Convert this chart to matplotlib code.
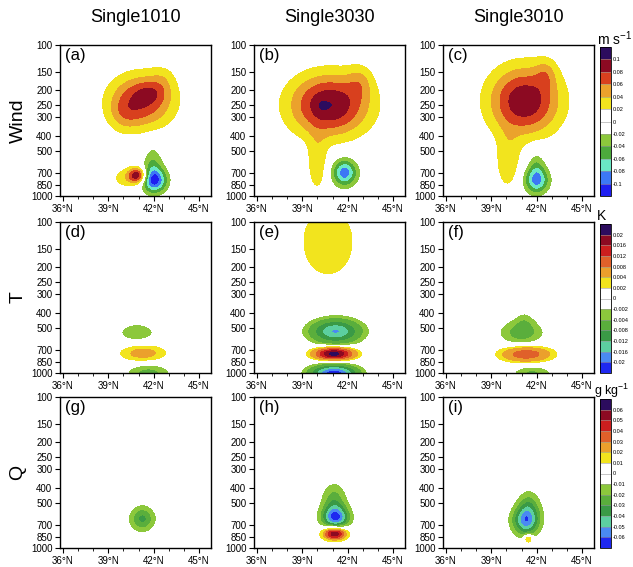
import numpy as np
import matplotlib
matplotlib.use("Agg")
import matplotlib.pyplot as plt
from matplotlib.colors import ListedColormap, BoundaryNorm
from matplotlib.ticker import NullLocator

plt.rcParams['font.family'] = ['Liberation Sans', 'DejaVu Sans']
plt.rcParams['mathtext.fontset'] = 'custom'
plt.rcParams['mathtext.rm'] = 'Liberation Sans'

runs = ["Single1010", "Single3030", "Single3010"]
variables = ["Wind", "T", "Q"]
tags = ["(a)", "(b)", "(c)", "(d)", "(e)", "(f)", "(g)", "(h)", "(i)"]

pres_ticks = [100, 150, 200, 250, 300, 400, 500, 700, 850, 1000]
lat_ticks = [36, 39, 42, 45]

wind_levels = [-0.1, -0.08, -0.06, -0.04, -0.02, 0, 0.02, 0.04, 0.06, 0.08, 0.1]
wind_labels = ["-0.1", "-0.08", "-0.06", "-0.04", "-0.02", "0",
               "0.02", "0.04", "0.06", "0.08", "0.1"]
t_levels = [-0.02, -0.016, -0.012, -0.008, -0.004, -0.002, 0,
            0.002, 0.004, 0.008, 0.012, 0.016, 0.02]
t_labels = ["-0.02", "-0.016", "-0.012", "-0.008", "-0.004", "-0.002", "0",
            "0.002", "0.004", "0.008", "0.012", "0.016", "0.02"]
q_levels = [-0.06, -0.05, -0.04, -0.03, -0.02, -0.01, 0,
            0.01, 0.02, 0.03, 0.04, 0.05, 0.06]
q_labels = ["-0.06", "-0.05", "-0.04", "-0.03", "-0.02", "-0.01", "0",
            "0.01", "0.02", "0.03", "0.04", "0.05", "0.06"]
units = [r"m s$^{-1}$", "K", r"g kg$^{-1}$"]
unit_x = [597, 597, 594]
unit_size = [10, 10, 9]

# colours low -> high (first = below lowest level, last = above highest)
wind_colors = ['#1e1ef0', '#3c78f5', '#6ae8c4', '#4caa3c', '#8cc83c', 'white',
               'white', '#f2e41e', '#eba22c', '#d8401e', '#8c0a22', '#2c0c5e']
tq_colors = ['#1e28f0', '#4a8af2', '#5ccfa0', '#3a9a46', '#5aae3c', '#8cc83c',
             'white', 'white', '#f2e41e', '#eba02c', '#e0602a', '#cc1e1e',
             '#8c0a22', '#2c0c5e']

# anomaly centres:
# (lat, pressure hPa, amplitude, lat width deg, log10(p) width)
wind_1010 = [(41.2, 235, 0.08, 1.5, 0.125), (41.9, 205, 0.02, 0.75, 0.05),
             (40.0, 290, 0.02, 0.7, 0.08), (42.6, 165, 0.015, 0.6, 0.06),
             (42.05, 790, -0.105, 0.6, 0.06), (41.95, 600, -0.035, 0.5, 0.09),
             (40.95, 730, 0.09, 0.4, 0.035), (40.2, 760, 0.03, 0.7, 0.05)]
wind_3030 = [(40.8, 250, 0.1, 1.85, 0.145), (40.3, 252, 0.01, 0.2, 0.02),
             (42.8, 175, 0.025, 0.6, 0.08), (40.0, 620, 0.035, 0.45, 0.13),
             (41.8, 700, -0.095, 0.6, 0.065)]
wind_3010 = [(41.2, 235, 0.097, 1.65, 0.16), (42.6, 155, 0.025, 0.5, 0.07),
             (40.1, 600, 0.035, 0.55, 0.13), (42.0, 790, -0.085, 0.6, 0.065),
             (42.0, 610, -0.03, 0.45, 0.08)]
t_1010 = [(40.9, 540, -0.0035, 0.95, 0.05), (41.3, 740, 0.0055, 1.05, 0.039),
          (41.65, 1000, -0.005, 1.0, 0.045)]
t_3030 = [(40.7, 135, 0.0035, 1.5, 0.2), (41.2, 530, -0.0165, 1.1, 0.055),
          (41.1, 745, 0.022, 0.85, 0.026), (41.1, 1000, -0.023, 1.0, 0.037)]
t_3010 = [(41.0, 540, -0.0055, 1.0, 0.06), (41.2, 450, -0.002, 0.45, 0.05),
          (41.3, 750, 0.011, 1.1, 0.034), (41.7, 1000, -0.0045, 0.9, 0.035)]
q_1010 = [(41.25, 640, -0.033, 0.6, 0.06)]
q_3030 = [(41.2, 630, -0.06, 0.65, 0.055), (41.1, 480, -0.025, 0.6, 0.08),
          (41.15, 800, 0.065, 0.55, 0.03)]
q_3010 = [(41.3, 660, -0.056, 0.65, 0.07), (41.5, 510, -0.02, 0.55, 0.07),
          (41.45, 870, 0.03, 0.2, 0.02)]

fields = [[wind_1010, wind_3030, wind_3010],
          [t_1010, t_3030, t_3010],
          [q_1010, q_3030, q_3010]]
level_sets = [wind_levels, t_levels, q_levels]
label_sets = [wind_labels, t_labels, q_labels]
color_sets = [wind_colors, tq_colors, tq_colors]

lat = np.linspace(35.8, 45.8, 201)
logp = np.linspace(2, 3, 161)
LAT, LOGP = np.meshgrid(lat, logp)


def build(blobs):
    f = np.zeros_like(LAT)
    for la, p, amp, sx, sy in blobs:
        f += amp * np.exp(-0.5 * ((LAT - la) / sx) ** 2
                          - 0.5 * ((LOGP - np.log10(p)) / sy) ** 2)
    return f


W, H = 633, 567
fig = plt.figure(figsize=(W / 100, H / 100), dpi=100)
col_left = [60, 254, 443]
row_top = [45, 222, 397]
aw, ah = 151, 151

for r in range(3):
    levels = level_sets[r]
    cols = color_sets[r]
    cmap = ListedColormap(cols[1:-1])
    cmap.set_under(cols[0])
    cmap.set_over(cols[-1])
    norm = BoundaryNorm(levels, cmap.N)
    for c in range(3):
        ax = fig.add_axes([col_left[c] / W, 1 - (row_top[r] + ah) / H, aw / W, ah / H])
        z = build(fields[r][c])
        cs = ax.contourf(lat, 10 ** logp, z, levels=levels, cmap=cmap,
                         norm=norm, extend='both')
        ax.set_yscale('log')
        ax.set_ylim(1000, 100)
        ax.set_xlim(35.8, 45.8)
        ax.set_yticks(pres_ticks)
        ax.set_yticklabels([str(p) for p in pres_ticks])
        ax.yaxis.set_minor_locator(NullLocator())
        ax.set_xticks(lat_ticks)
        ax.set_xticklabels([f"{v}°N" for v in lat_ticks])
        ax.set_xticks(range(37, 46), minor=True)
        ax.tick_params(which='both', direction='out', labelsize=7, pad=2)
        ax.tick_params(which='major', length=3.5)
        ax.tick_params(which='minor', length=2)
        for s in ax.spines.values():
            s.set_linewidth(1.0)
        ax.text(0.03, 0.98, tags[r * 3 + c], transform=ax.transAxes,
                ha='left', va='top', fontsize=12)
        if r == 0:
            fig.text((col_left[c] + aw / 2) / W, 1 - 18 / H, runs[c],
                     ha='center', va='center', fontsize=13)

    cax = fig.add_axes([600 / W, 1 - (row_top[r] + 2 + 149) / H, 11 / W, 149 / H])
    cb = fig.colorbar(cs, cax=cax, ticks=levels, extendrect=True,
                      extendfrac='auto', drawedges=True)
    cb.ax.set_yticklabels(label_sets[r])
    cb.ax.tick_params(length=0, labelsize=4, pad=1.5)
    cb.outline.set_linewidth(0.6)
    cb.dividers.set_color('#999999')
    cb.dividers.set_linewidth(0.4)
    fig.text(unit_x[r] / W, 1 - (row_top[r] - 6) / H, units[r], ha='left',
             va='center', fontsize=unit_size[r])

    fig.text(18 / W, 1 - (row_top[r] + ah / 2) / H, variables[r],
             rotation=90, ha='center', va='center', fontsize=14)

plt.savefig("out.png", dpi=100)
